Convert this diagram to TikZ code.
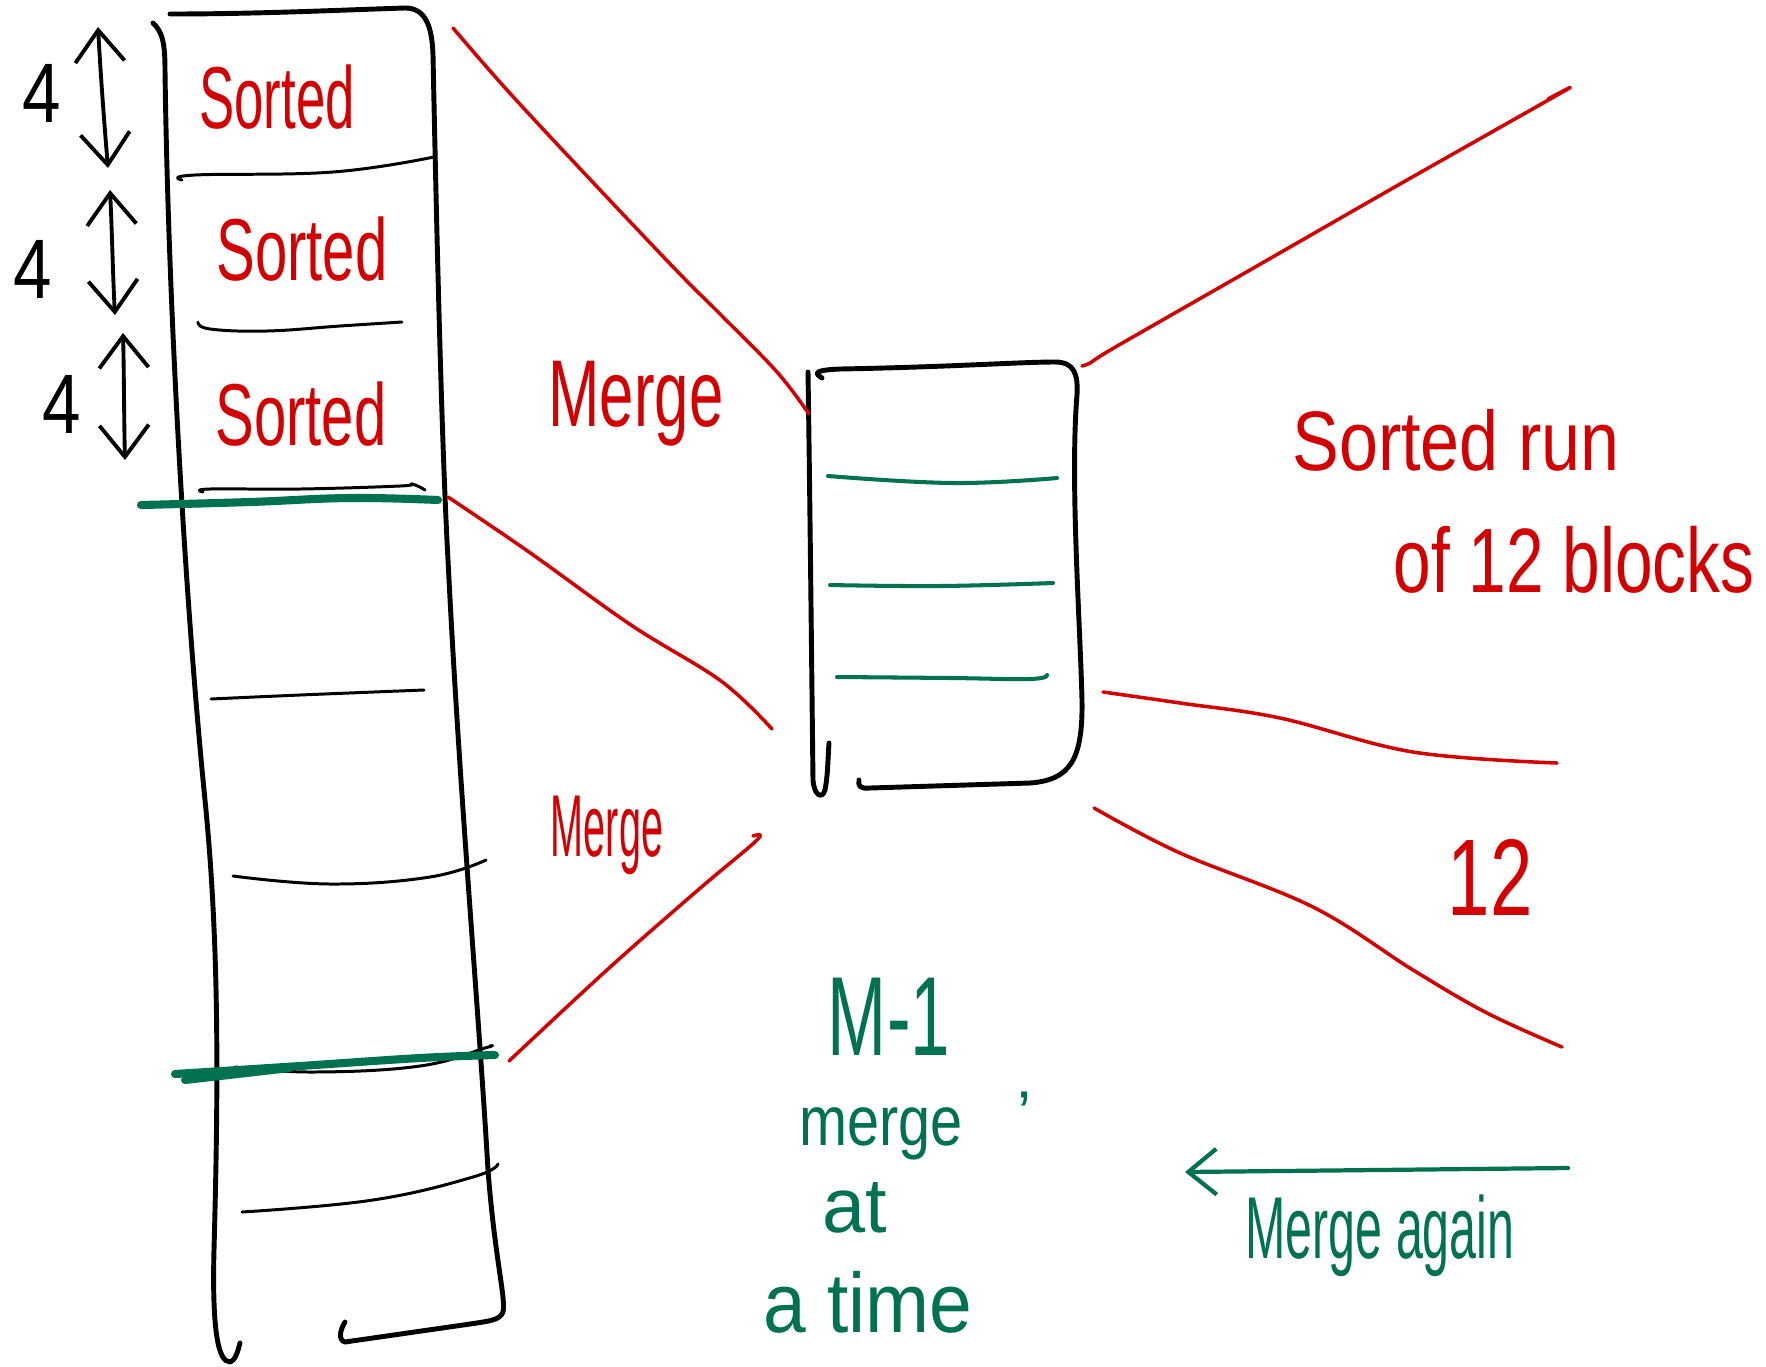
\documentclass[tikz,border=0pt]{standalone}
\usepackage{fontspec}
\setmainfont{Liberation Sans}
\usepackage{graphicx}
\usetikzlibrary{arrows.meta}
\definecolor{inkred}{RGB}{210,0,0}
\definecolor{inkgreen}{RGB}{0,114,82}
% horizontally squeezed handwriting-like text
\newcommand{\hand}[2]{\scalebox{#1}[1]{#2}}
\begin{document}
\begin{tikzpicture}[x=0.01cm, y=-0.01cm, line cap=round, line join=round,
  outline/.style={draw=black, line width=1.4pt},
  rule/.style={draw=black, line width=0.85pt},
  greenrule/.style={draw=inkgreen, line width=2.3pt},
  greenline/.style={draw=inkgreen, line width=1.15pt},
  redline/.style={draw=inkred, line width=1.0pt},
  sizearrow/.style={draw=black, line width=1.1pt,
    {Straight Barb[length=9pt,width=14pt]}-{Straight Barb[length=9pt,width=14pt]}},
  backarrow/.style={draw=inkgreen, line width=1.2pt, -{Straight Barb[length=8pt,width=13pt]}},
  lbl/.style={inner sep=0pt, anchor=base, font=\fontsize{#1}{#1}\selectfont},
  redtxt/.style={text=inkred},
  greentxt/.style={text=inkgreen}]

\fill[white] (0,0) rectangle (1766,1366);
\useasboundingbox (0,0) rectangle (1766,1366);

% ---------- tall column of blocks ----------
\draw[outline] (170,14) .. controls (260,14) and (340,10) .. (405,8)
  .. controls (425,8) and (432,25) .. (433,55)
  .. controls (437,250) and (442,450) .. (448,560)
  .. controls (460,800) and (478,1000) .. (488,1170)
  .. controls (495,1260) and (506,1298) .. (503,1312)
  .. controls (500,1320) and (490,1321) .. (470,1324)
  -- (345,1342) .. controls (338,1340) and (340,1330) .. (345,1322);
\draw[outline] (153,23) .. controls (163,32) and (165,45) .. (165,70)
  .. controls (168,300) and (185,600) .. (205,800)
  .. controls (220,950) and (218,1100) .. (214,1250)
  .. controls (212,1330) and (218,1362) .. (230,1362)
  .. controls (236,1360) and (238,1350) .. (240,1343);

% block dividers
\draw[rule] plot[smooth, tension=0.7] coordinates {(182,180) (195,175) (333,172) (434,157)};
\draw[rule] plot[smooth, tension=0.7] coordinates {(198,322) (210,329) (267,331) (340,326) (402,322)};
\draw[rule] plot[smooth, tension=0.7] coordinates {(203,492) (210,489) (300,489) (400,486) (412,484) (425,490)};
\draw[rule] plot[smooth, tension=0.7] coordinates {(211,699) (300,695) (424,690)};
\draw[rule] plot[smooth, tension=0.7] coordinates {(233,876) (330,884) (430,877) (486,860)};
\draw[rule] plot[smooth, tension=0.7] coordinates {(235,1067) (313,1072) (420,1066) (485,1048) (490,1046)};
\draw[rule] plot[smooth, tension=0.7] coordinates {(242,1212) (373,1200) (473,1177) (498,1164)};

% run boundaries
\draw[greenrule] plot[smooth, tension=0.7] coordinates {(141,505) (250,502) (350,498) (438,500)};
\draw[greenrule] plot[smooth, tension=0.7] coordinates {(175,1074) (300,1066) (420,1058) (495,1055)};
\draw[greenrule] (185,1080) -- (290,1068);

% block sizes
\node[lbl=24] (n4a) at (42,122) {\hand{0.82}{4}};
\node[lbl=24] (n4b) at (33,298) {\hand{0.82}{4}};
\node[lbl=24] (n4c) at (62,433) {\hand{0.82}{4}};
\coordinate (a1t) at (98,27);  \coordinate (a1b) at (108,168);
\coordinate (a2t) at (110,190); \coordinate (a2b) at (115,315);
\coordinate (a3t) at (123,333); \coordinate (a3b) at (125,460);
\draw[sizearrow] (a1t) .. controls (101,80) and (104,120) .. (a1b);
\draw[sizearrow] (a2t) .. controls (112,230) and (113,280) .. (a2b);
\draw[sizearrow] (a3t) .. controls (124,370) and (124,420) .. (a3b);

% sorted runs
\node[lbl=25, redtxt] (s1) at (277,128) {\hand{0.6}{Sorted}};
\node[lbl=25, redtxt] (s2) at (302,280) {\hand{0.66}{Sorted}};
\node[lbl=25, redtxt] (s3) at (301,445) {\hand{0.66}{Sorted}};

% ---------- merge buffer ----------
\draw[outline] (822,378) .. controls (812,372) and (818,370) .. (840,369)
  .. controls (950,367) and (1020,362) .. (1055,362)
  .. controls (1075,362) and (1078,375) .. (1077,395)
  .. controls (1070,480) and (1080,620) .. (1082,700)
  .. controls (1083,760) and (1070,780) .. (1030,783)
  -- (870,788) .. controls (860,789) and (858,786) .. (859,780);
\draw[outline] (808,372) .. controls (810,500) and (812,700) .. (813,780)
  .. controls (814,795) and (822,800) .. (825,790)
  .. controls (828,775) and (828,755) .. (829,743);
\draw[greenline] plot[smooth, tension=0.7] coordinates {(828,476) (953,483) (1057,478)};
\draw[greenline] plot[smooth, tension=0.7] coordinates {(830,585) (940,586) (1053,583)};
\draw[greenline] plot[smooth, tension=0.7] coordinates {(837,677) (950,678) (1030,679) (1047,675)};

% ---------- funnels into and out of the buffer ----------
\coordinate (inA) at (453,28);   \coordinate (inAend) at (809,414);
\coordinate (inB) at (448,497);  \coordinate (inBend) at (772,729);
\coordinate (inC) at (509,1061); \coordinate (inCend) at (757,840);
\coordinate (outA) at (1090,363); \coordinate (outAend) at (1566,90);
\coordinate (outB) at (1103,692); \coordinate (outBend) at (1557,763);
\coordinate (outC) at (1094,808); \coordinate (outCend) at (1562,1047);

\draw[redline] plot[smooth, tension=0.6] coordinates {(inA) (507,90) (586,175) (676,270) (721,315) (777,372) (inAend)};
\draw[redline] plot[smooth, tension=0.6] coordinates {(inB) (529,552) (631,625) (721,681) (inBend)};
\draw[redline] plot[smooth, tension=0.6] coordinates {(inC) (608,969) (698,890) (inCend) (753,836)};
\draw[redline] plot[smooth, tension=0.4] coordinates {(1082,366) (outA) (1112,349) (1250,270) (1400,184) (outAend) (1548,99)};
\draw[redline] plot[smooth, tension=0.6] coordinates {(outB) (1180,703) (1280,718) (1413,752) (outBend)};
\draw[redline] plot[smooth, tension=0.6] coordinates {(outC) (1180,853) (1313,907) (1413,970) (1487,1013) (outCend)};

\node[lbl=27, redtxt] (mergeA) at (636,426) {\hand{0.65}{Merge}};
\node[lbl=25, redtxt] (mergeB) at (607,856) {\hand{0.45}{Merge}};

% ---------- output run ----------
\node[lbl=24, redtxt] (run) at (1456,470) {\hand{0.83}{Sorted run}};
\node[lbl=26, redtxt] (runof) at (1574,592) {\hand{0.74}{of 12 blocks}};
\node[lbl=31, redtxt] (twelve) at (1490,915) {\hand{0.7}{12}};

% ---------- notes ----------
\node[lbl=32, greentxt] (mm1) at (889,1055) {\hand{0.63}{M-1}};
\node[lbl=20, greentxt] (mrg) at (881,1145) {\hand{0.82}{merge}};
\node[lbl=18, greentxt] (tick) at (1025,1135) {'};
\node[lbl=22, greentxt] (at) at (855,1232) {at};
\node[lbl=24, greentxt] (atime) at (868,1332) {\hand{0.91}{a time}};

\coordinate (againS) at (1568,1168);
\coordinate (againE) at (1185,1172);
\draw[backarrow] (againS) -- (againE);
\node[lbl=25, greentxt] (again) at (1380,1258) {\hand{0.55}{Merge again}};

\end{tikzpicture}
\end{document}
